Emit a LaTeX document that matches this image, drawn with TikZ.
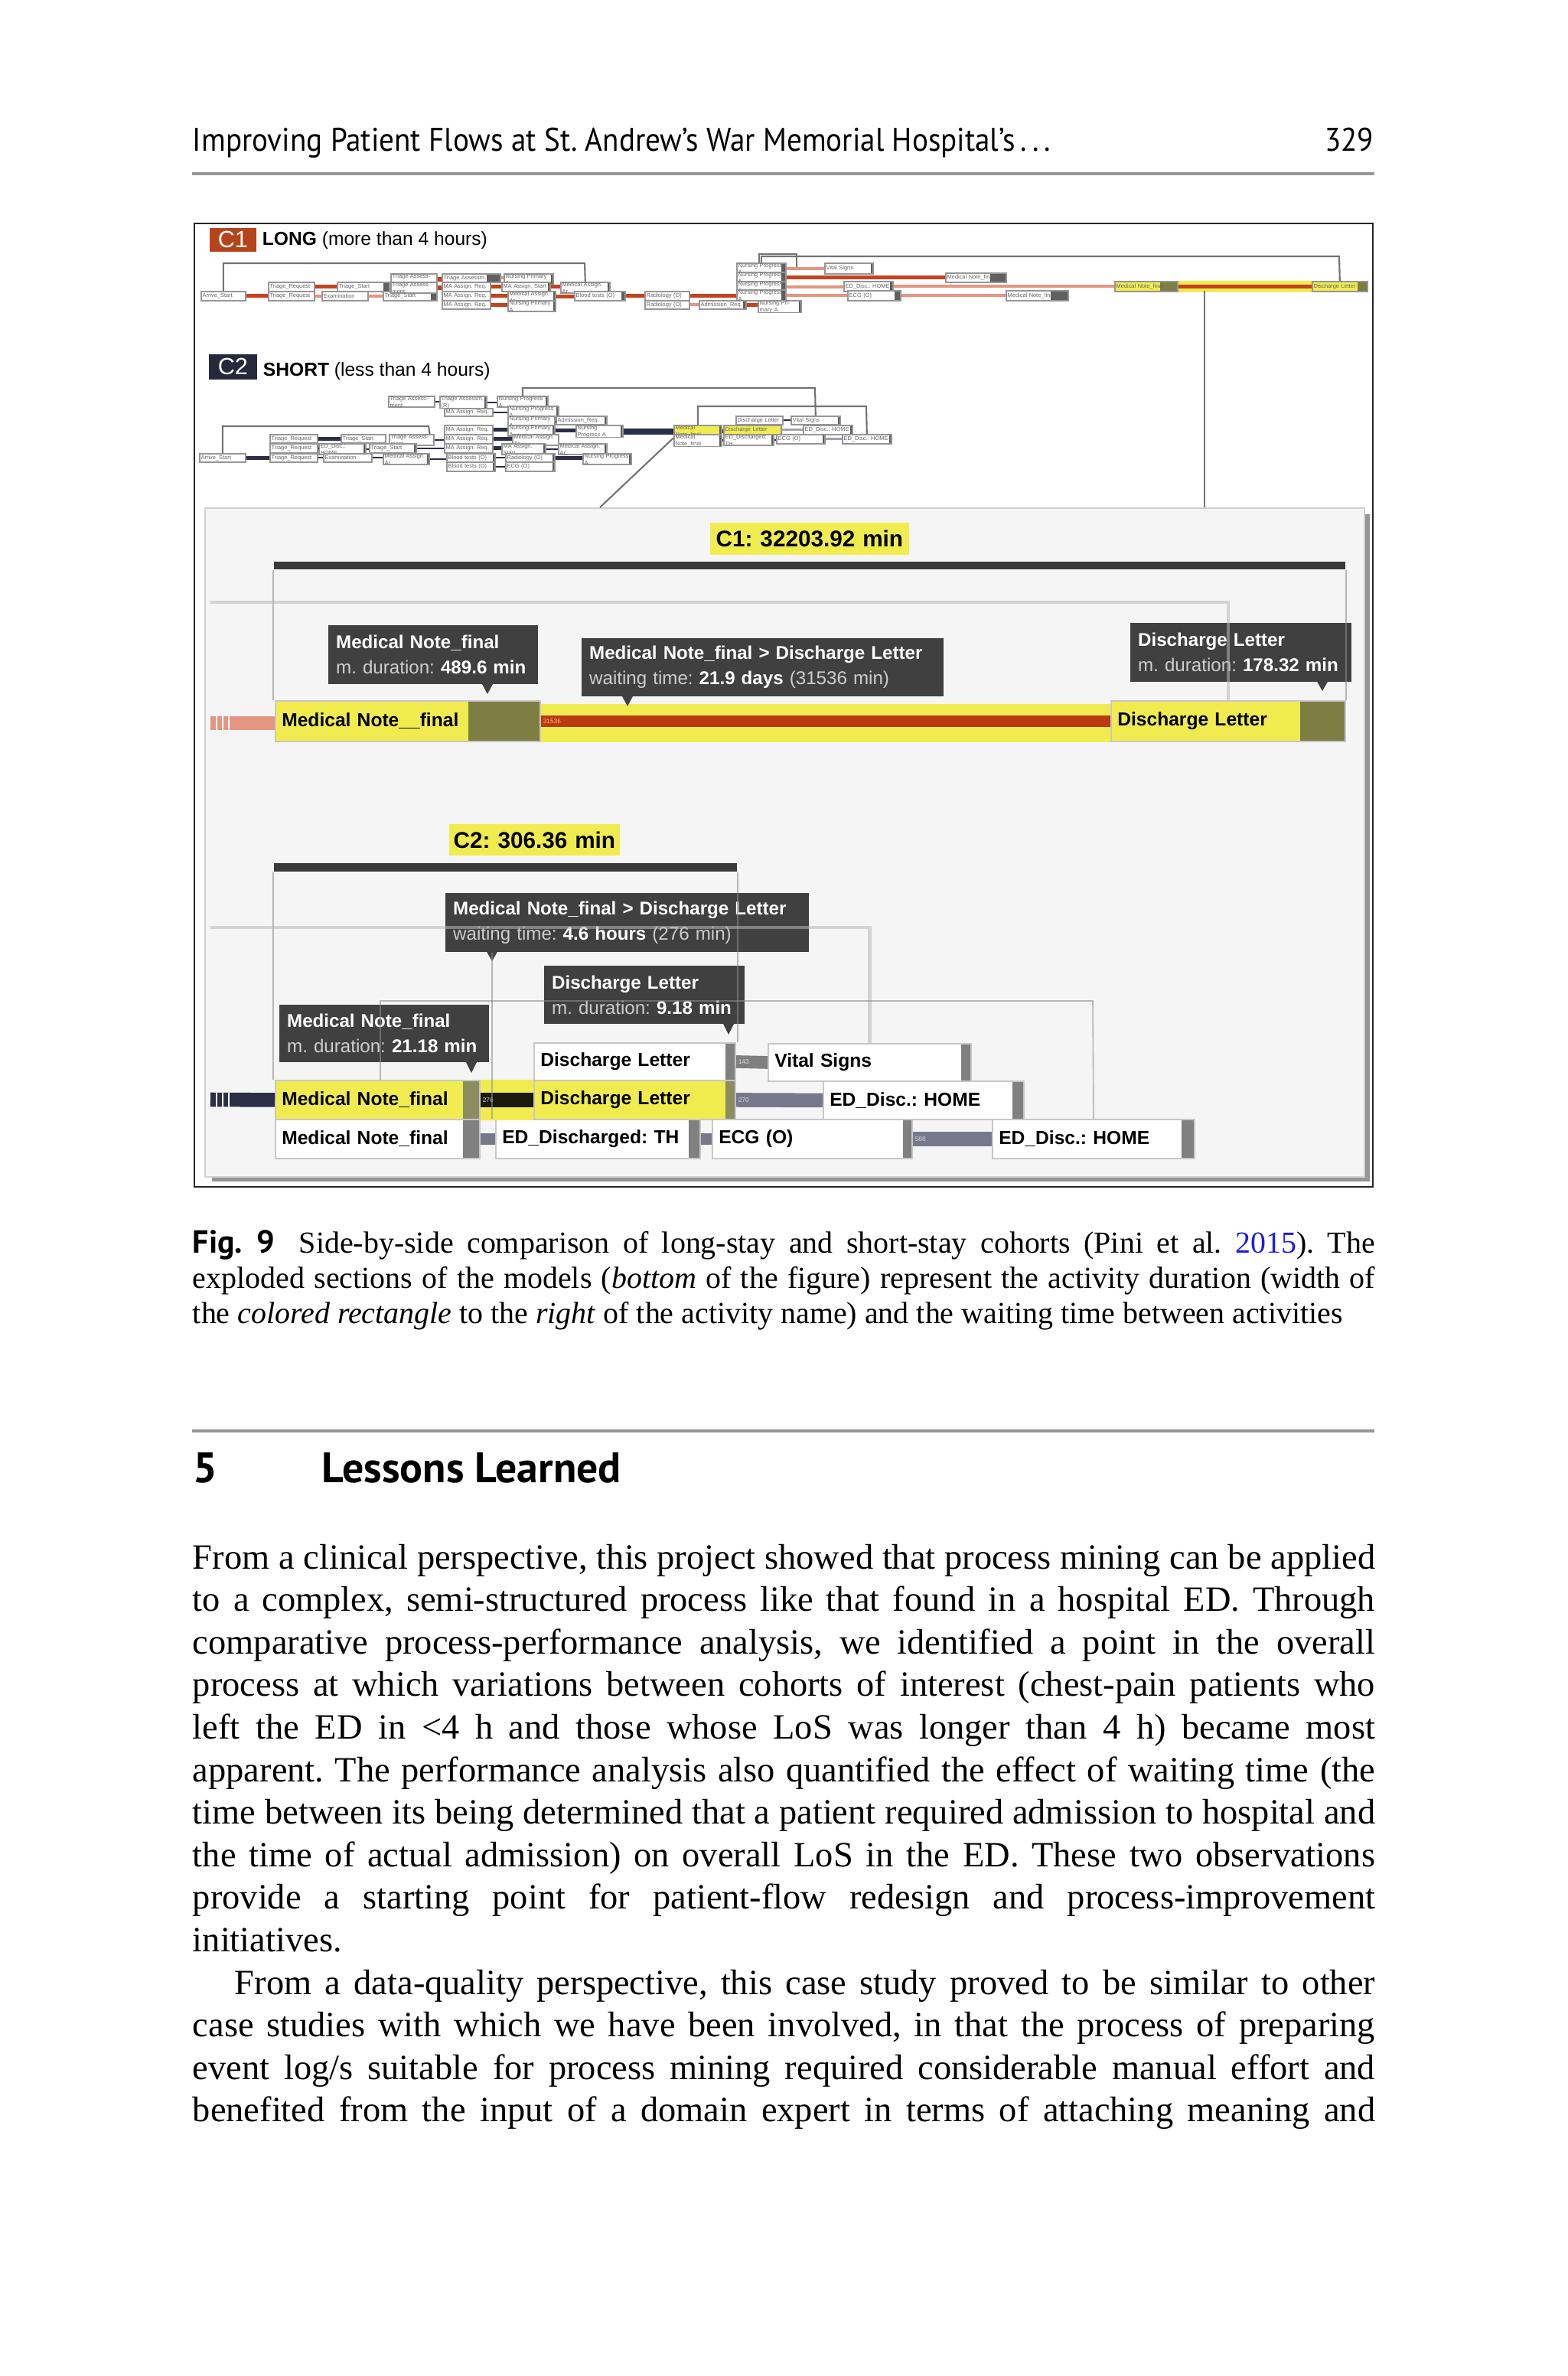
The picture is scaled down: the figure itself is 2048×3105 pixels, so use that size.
\documentclass[tikz,border=0pt]{standalone}
\usepackage{fontspec}
\setmainfont{Liberation Serif}
\newfontfamily\figfont{Liberation Sans}
\newfontfamily\headfont[FakeStretch=0.915]{PT Sans}
\newfontfamily\boldsans{PT Sans}

\newcommand\pxu{0.0757mm}
% box: [style]{name}{x1}{y1}{x2}{y2}{xpad}{text}
\newcommand\bx[8][]{%
  \node[anchor=north west, inner ysep=0pt, #1, inner xsep=#7,
    minimum height={(#6-#4)*\pxu}, text width={(#5-#3)*\pxu-2*(#7)}]
    (#2) at (#3,#4) {#8};}

\definecolor{c1red}{RGB}{181,68,26}
\definecolor{c2navy}{RGB}{38,40,60}
\definecolor{redline}{RGB}{196,66,30}
\definecolor{redpale}{RGB}{228,150,130}
\definecolor{navyline}{RGB}{44,46,72}
\definecolor{ylw}{RGB}{240,236,80}
\definecolor{olive}{RGB}{125,126,66}
\definecolor{olivegray}{RGB}{140,140,96}
\definecolor{barred}{RGB}{184,58,14}
\definecolor{bardark}{RGB}{58,58,58}
\definecolor{tipgray}{RGB}{64,64,64}
\definecolor{tipsub}{RGB}{205,205,205}
\definecolor{panelbg}{RGB}{245,245,246}
\definecolor{shadowgray}{RGB}{150,150,150}
\definecolor{stripgray}{RGB}{128,128,128}
\definecolor{mapstrip}{RGB}{95,95,95}
\definecolor{mapedge}{RGB}{150,150,150}
\definecolor{rulegray}{RGB}{150,150,150}
\definecolor{slate}{RGB}{120,120,140}
\definecolor{linkblue}{RGB}{30,30,220}

\begin{document}
\frenchspacing
\begin{tikzpicture}[x=\pxu, y=-\pxu,
    mapbox/.style={draw=mapedge, line width=0.35pt, fill=white, text=black!60,
      font=\figfont\fontsize{1.6}{1.9}\selectfont},
    strip/.style 2 args={path picture={\fill[#2]
      ([xshift=-#1*\pxu]path picture bounding box.north east)
      rectangle (path picture bounding box.south east);}},
    badge/.style={text=white, align=center, font=\figfont\fontsize{6.6}{7}\selectfont},
    figtitle/.style={inner sep=0pt, font=\figfont\fontsize{5.3}{6}\selectfont},
    actbox/.style={draw=black!22, line width=0.4pt,
      font=\figfont\bfseries\fontsize{5.3}{6}\selectfont},
    tipbox/.style={fill=tipgray, text=white, font=\figfont\fontsize{5.2}{7.1}\selectfont},
    durlab/.style={fill=ylw, align=center, font=\figfont\bfseries\fontsize{6.4}{7}\selectfont},
    barnum/.style={inner sep=0pt, font=\figfont\fontsize{1.8}{2}\selectfont},
    rc/.style={draw=redline, line width=1.1pt},
    rcp/.style={draw=redpale, line width=0.9pt},
    nc/.style={draw=navyline, line width=1.1pt},
    ncl/.style={draw=navyline, line width=0.5pt},
    ngc/.style={draw=slate!70, line width=0.6pt},
    loopl/.style={draw=black!55, line width=0.45pt},
    thinl/.style={draw=black!45, line width=0.35pt, opacity=0.6},
    wline/.style={draw=black!28, line width=0.9pt, opacity=0.55},
    headtext/.style={inner sep=0pt, font=\headfont\fontsize{9.2}{11}\selectfont},
    sechead/.style={inner sep=0pt, anchor=base west, font=\boldsans\bfseries\fontsize{12}{14}\selectfont},
    capline/.style={inner sep=0pt, anchor=base west, font=\fontsize{8.6}{10}\selectfont},
    body/.style={inner sep=0pt, anchor=base west, font=\fontsize{10}{12}\selectfont}
]
\useasboundingbox (0,0) rectangle (2048,3105);
\fill[white] (0,0) rectangle (2048,3105);

% running head
\node[headtext, anchor=base west] (runhead) at (251,197)
  {Improving Patient Flows at St. Andrew’s War Memorial Hospital’s\,.\,.\,.};
\node[headtext, anchor=base east] (pageno) at (1796,197) {329};
\draw[rulegray, line width=0.85pt] (251,227) -- (1796,227);

% figure frame
\draw[black!85, line width=0.5pt] (254,292) rectangle (1794,1551);

% ---- C1 overview map
\bx[badge, fill=c1red]{c1tag}{273}{297}{334}{328}{0pt}{C1}
\node[figtitle, anchor=base west] (c1title) at (342,320) {\textbf{LONG} (more than 4 hours)};

\bx[mapbox]{m1}{262}{380}{320}{392}{0.4pt}{Arrive\_Start}
\bx[mapbox]{m2}{350}{368}{410}{380}{0.4pt}{Triage\_Request}
\bx[mapbox]{m3}{350}{380}{410}{392}{0.4pt}{Triage\_Request}
\bx[mapbox, strip={8}{mapstrip}]{m4}{440}{368}{508}{380}{0.4pt}{Triage\_Start}
\bx[mapbox]{m5}{420}{380}{480}{392}{0.4pt}{Examination}
\bx[mapbox, strip={8}{mapstrip}]{m6}{500}{380}{570}{392}{0.4pt}{Triage\_Start}
\bx[mapbox]{m7}{510}{357}{570}{368}{0.4pt}{Triage Assessment}
\bx[mapbox]{m8}{510}{368}{570}{380}{0.4pt}{Triage Assessment}
\bx[mapbox, strip={18}{mapstrip}]{m9}{577}{357}{653}{368}{0.4pt}{Triage Assessm. (R)}
\bx[mapbox]{m10}{577}{368}{640}{380}{0.4pt}{MA Assign. Req.}
\bx[mapbox]{m11}{577}{380}{640}{392}{0.4pt}{MA Assign. Req.}
\bx[mapbox]{m12}{577}{392}{640}{403}{0.4pt}{MA Assign. Req.}
\bx[mapbox, strip={3}{mapstrip}]{m13}{658}{357}{722}{368}{0.4pt}{Nursing Primary A.}
\bx[mapbox, strip={3}{mapstrip}]{m14}{655}{368}{718}{380}{0.4pt}{MA Assign. Start}
\bx[mapbox, strip={3}{mapstrip}]{m15}{663}{380}{725}{392}{0.4pt}{Medical Assign. Ar.}
\bx[mapbox, strip={3}{mapstrip}]{m16}{663}{392}{725}{403}{0.4pt}{Nursing Primary A.}
\bx[mapbox, strip={3}{mapstrip}]{m17}{732}{368}{796}{380}{0.4pt}{Medical Assign. Ar.}
\bx[mapbox, strip={5}{mapstrip}]{m18}{750}{380}{816}{392}{0.4pt}{Blood tests (O)}
\bx[mapbox]{m19}{842}{380}{900}{392}{0.4pt}{Radiology (O)}
\bx[mapbox]{m20}{842}{392}{900}{403}{0.4pt}{Radiology (O)}
\bx[mapbox, strip={4}{mapstrip}]{m21}{913}{392}{974}{403}{0.4pt}{Admission\_Req.}
\bx[mapbox, strip={3}{mapstrip}]{m22}{990}{392}{1046}{403}{0.4pt}{Nursing Primary A.}
\bx[mapbox, strip={6}{mapstrip}]{m23}{962}{343}{1026}{355}{0.4pt}{Nursing Progress A}
\bx[mapbox, strip={6}{mapstrip}]{m24}{962}{355}{1026}{367}{0.4pt}{Nursing Progress A}
\bx[mapbox, strip={6}{mapstrip}]{m25}{962}{367}{1026}{378}{0.4pt}{Nursing Progress A}
\bx[mapbox, strip={6}{mapstrip}]{m26}{962}{378}{1026}{390}{0.4pt}{Nursing Progress A}
\bx[mapbox, strip={3}{mapstrip}]{m27}{1077}{343}{1140}{357}{0.4pt}{Vital Signs}
\bx[mapbox, strip={21}{mapstrip}]{m28}{1235}{356}{1314}{368}{0.4pt}{Medical Note\_final}
\bx[mapbox, strip={4}{mapstrip}]{m29}{1102}{367}{1166}{380}{0.4pt}{ED\_Disc.: HOME}
\bx[mapbox, strip={8}{mapstrip}]{m30}{1107}{379}{1176}{392}{0.4pt}{ECG (O)}
\bx[mapbox, strip={23}{mapstrip}]{m31}{1314}{379}{1395}{392}{0.4pt}{Medical Note\_final}
\bx[mapbox, fill=ylw, strip={23}{olive}]{m32}{1456}{367}{1538}{380}{0.4pt}{Medical Note\_final}
\bx[mapbox, fill=ylw, strip={13}{olive}]{m33}{1714}{367}{1786}{380}{0.4pt}{Discharge Letter}

\foreach \a/\b in {m1/m3, m2/m4, m8/m10, m10/m14, m11/m15, m12/m16, m14/m17,
    m15/m18, m18/m19, m19/m26, m21/m22, m24/m28, m7/m9}
  \draw[rc] (\a.east) -- (\a.east -| \b.west);
\foreach \a/\b in {m3/m5, m5/m6, m9/m13, m20/m21, m23/m27, m25/m29, m26/m30,
    m29/m32, m30/m31}
  \draw[rcp] (\a.east) -- (\a.east -| \b.west);
\fill[ylw] (m32.north east) rectangle (m33.south west);
\draw[rc] (m32.east) -- (m33.west);

\draw[loopl] (m1.north) |- (764,344) -- (m17.north);
\draw[loopl] (m23.north) |- (1750,335) -- (m33.north);
\draw[loopl] (992,343) |- (1041,332) -- (1041,349);
\coordinate (c1tap) at (1574,380);

% ---- C2 overview map
\bx[badge, fill=c2navy]{c2tag}{272}{462}{335}{495}{0pt}{C2}
\node[figtitle, anchor=base west] (c2title) at (343,491) {\textbf{SHORT} (less than 4 hours)};

\bx[mapbox]{n1}{260}{592}{320}{603}{0.4pt}{Arrive\_Start}
\bx[mapbox]{n2}{352}{567}{414}{578}{0.4pt}{Triage\_Request}
\bx[mapbox]{n3}{352}{579}{414}{591}{0.4pt}{Triage\_Request}
\bx[mapbox]{n4}{352}{592}{414}{603}{0.4pt}{Triage\_Request}
\bx[mapbox]{n5}{445}{567}{503}{578}{0.4pt}{Triage\_Start}
\bx[mapbox]{n6}{508}{567}{566}{578}{0.4pt}{Triage Assessment}
\bx[mapbox, strip={3}{mapstrip}]{n7}{416}{579}{477}{591}{0.4pt}{ED\_Disc.: HOME}
\bx[mapbox, strip={3}{mapstrip}]{n8}{482}{579}{543}{591}{0.4pt}{Triage\_Start}
\bx[mapbox]{n9}{422}{592}{485}{603}{0.4pt}{Examination}
\bx[mapbox, strip={3}{mapstrip}]{n10}{500}{592}{560}{603}{0.4pt}{Medical Assign. Ar.}
\bx[mapbox]{n11}{507}{517}{567}{528}{0.4pt}{Triage Assessment}
\bx[mapbox, strip={3}{mapstrip}]{n12}{574}{517}{635}{528}{0.4pt}{Triage Assessm. (R)}
\bx[mapbox, strip={3}{mapstrip}]{n13}{649}{517}{715}{528}{0.4pt}{Nursing Progress A}
\bx[mapbox]{n14}{580}{533}{643}{543}{0.4pt}{MA Assign. Req.}
\bx[mapbox, strip={3}{mapstrip}]{n15}{663}{530}{729}{542}{0.4pt}{Nursing Progress A}
\bx[mapbox]{n16}{663}{543}{724}{554}{0.4pt}{Nursing Primary A.}
\bx[mapbox, strip={3}{mapstrip}]{n17}{726}{543}{792}{554}{0.4pt}{Admission\_Req.}
\bx[mapbox]{n18}{580}{555}{643}{567}{0.4pt}{MA Assign. Req.}
\bx[mapbox, strip={3}{mapstrip}]{n19}{663}{555}{724}{567}{0.4pt}{Nursing Primary A.}
\bx[mapbox, strip={3}{mapstrip}]{n20}{752}{555}{813}{567}{0.4pt}{Nursing Progress A}
\bx[mapbox]{n21}{580}{567}{643}{579}{0.4pt}{MA Assign. Req.}
\bx[mapbox]{n22}{669}{567}{729}{579}{0.4pt}{Medical Assign. Ar.}
\bx[mapbox]{n23}{580}{579}{643}{591}{0.4pt}{MA Assign. Req.}
\bx[mapbox, strip={3}{mapstrip}]{n24}{655}{579}{712}{591}{0.4pt}{MA Assign. Start}
\bx[mapbox, strip={3}{mapstrip}]{n25}{729}{579}{792}{591}{0.4pt}{Medical Assign. Ar.}
\bx[mapbox, strip={3}{mapstrip}]{n26}{583}{592}{646}{603}{0.4pt}{Blood tests (O)}
\bx[mapbox, strip={3}{mapstrip}]{n27}{583}{603}{646}{615}{0.4pt}{Blood tests (O)}
\bx[mapbox, strip={3}{mapstrip}]{n28}{660}{592}{724}{603}{0.4pt}{Radiology (O)}
\bx[mapbox, strip={3}{mapstrip}]{n29}{660}{603}{724}{615}{0.4pt}{ECG (O)}
\bx[mapbox, strip={3}{mapstrip}]{n30}{761}{592}{824}{603}{0.4pt}{Nursing Progress A}
\bx[mapbox, fill=ylw, strip={3}{mapstrip}]{n31}{880}{555}{942}{567}{0.4pt}{Medical Note\_final}
\bx[mapbox, fill=ylw]{n32}{945}{555}{1020}{567}{0.4pt}{Discharge Letter}
\bx[mapbox, strip={3}{mapstrip}]{n33}{880}{567}{942}{579}{0.4pt}{Medical Note\_final}
\bx[mapbox, strip={3}{mapstrip}]{n34}{945}{567}{1010}{579}{0.4pt}{ED\_Discharged: TH}
\bx[mapbox, strip={3}{mapstrip}]{n35}{1014}{567}{1077}{579}{0.4pt}{ECG (O)}
\bx[mapbox, strip={3}{mapstrip}]{n36}{1100}{567}{1164}{579}{0.4pt}{ED\_Disc.: HOME}
\bx[mapbox]{n37}{961}{543}{1022}{554}{0.4pt}{Discharge Letter}
\bx[mapbox, strip={3}{mapstrip}]{n38}{1033}{543}{1097}{554}{0.4pt}{Vital Signs}
\bx[mapbox, strip={3}{mapstrip}]{n39}{1049}{555}{1113}{567}{0.4pt}{ED\_Disc.: HOME}

\foreach \a/\b in {n1/n4, n2/n5, n18/n19, n19/n20, n21/n22, n23/n24, n28/n30, n31/n32}
  \draw[nc] (\a.east) -- (\a.east -| \b.west);
\draw[nc, line width=1.7pt] (n20.east) -- (n20.east -| n31.west);
\foreach \a/\b in {n3/n7, n4/n9, n7/n8, n9/n10, n6/n21, n11/n12, n12/n13, n14/n15,
    n16/n17, n24/n25, n26/n28, n27/n29, n37/n38, n33/n34, n34/n35, n8/n23, n10/n26}
  \draw[ncl] (\a.east) -- (\a.east -| \b.west);
\foreach \a/\b in {n32/n39, n35/n36}
  \draw[ngc] (\a.east) -- (\a.east -| \b.west);

\draw[loopl] (n1.north) |- (560,557) -- ([xshift=-6*\pxu]n6.north east);
\draw[loopl] (n13.north) |- (1065,507) -- (n38.north);
\draw[loopl] (n31.north) |- (1132,531) -- (n36.north);

% ---- exploded panel
\fill[shadowgray] (277,672) rectangle (1790,1544);
\bx[fill=panelbg, draw=black!18, line width=0.4pt]{zoompanel}{267}{663}{1782}{1537}{0pt}{}
\draw[loopl] (c1tap) -- (c1tap |- zoompanel.north);
\coordinate (c2tap) at (784,663);
\draw[loopl] (n31.south west) -- (c2tap);

% C1 exploded
\bx[durlab]{c1sum}{927}{682}{1187}{724}{0pt}{C1: 32203.92 min}
\bx[fill=bardark]{c1bar}{357}{733}{1757}{743}{0pt}{}
\fill[redpale] (275,936) rectangle (359,954);
\foreach \sx in {283,291,299} \draw[white, line width=0.5pt] (\sx,936) -- (\sx,954);
\bx[actbox, fill=ylw, strip={94}{olive}]{c1mn}{359}{915}{705}{968}{1.8pt}{Medical Note\_\_final}
\bx[actbox, fill=ylw, strip={59}{olive}]{c1dl}{1451}{915}{1757}{968}{1.8pt}{Discharge Letter}
\fill[ylw] ([yshift=-5*\pxu]c1mn.north east) rectangle (c1dl.south west);
\draw[barred, line width=3.4pt] (c1mn.east) -- (c1dl.west);
\node[barnum, text=orange!55, anchor=west] (c1wait) at ([xshift=2*\pxu]c1mn.east) {31536};

\bx[tipbox]{c1tipmn}{428}{816}{702}{893}{2.2pt}
  {\mbox{\textbf{Medical Note\_final}}\\\mbox{{\color{tipsub}m. duration:} \textbf{489.6 min}}}
\fill[tipgray] (629,892) -- (645,892) -- (637,907) -- cycle;
\bx[tipbox]{c1tipw}{759}{833}{1232}{909}{2.2pt}
  {\mbox{\textbf{Medical Note\_final > Discharge Letter}}\\\mbox{{\color{tipsub}waiting time:} \textbf{21.9 days} {\color{tipsub}(31536 min)}}}
\fill[tipgray] (812,908) -- (828,908) -- (820,923) -- cycle;
\bx[tipbox]{c1tipdl}{1476}{813}{1765}{890}{2.2pt}
  {\mbox{\textbf{Discharge Letter}}\\\mbox{{\color{tipsub}m. duration:} \textbf{178.32 min}}}
\fill[tipgray] (1720,889) -- (1736,889) -- (1728,903) -- cycle;

\draw[thinl] (c1bar.south west) -- (c1bar.south west |- c1mn.north);
\draw[thinl] (c1bar.south east) -- (c1bar.south east |- c1dl.north);
\coordinate (c1in) at (275,787);
\draw[wline] (c1in) -| (c1dl.north);

% C2 exploded
\bx[durlab]{c2sum}{586}{1076}{809}{1117}{0pt}{C2: 306.36 min}
\bx[fill=bardark]{c2bar}{357}{1127}{962}{1138}{0pt}{}
\bx[actbox, fill=white, strip={13}{stripgray}]{d1}{697}{1362}{960}{1411}{1.8pt}{Discharge Letter}
\bx[actbox, fill=white, strip={13}{stripgray}]{d2}{1003}{1363}{1268}{1412}{1.8pt}{Vital Signs}
\bx[actbox, fill=ylw, strip={22}{olivegray}]{d3}{359}{1411}{626}{1462}{1.8pt}{Medical Note\_final}
\bx[actbox, fill=ylw, strip={13}{olivegray}]{d4}{697}{1411}{960}{1462}{1.8pt}{Discharge Letter}
\bx[actbox, fill=white, strip={15}{stripgray}]{d5}{1075}{1412}{1337}{1462}{1.8pt}{ED\_Disc.: HOME}
\bx[actbox, fill=white, strip={22}{stripgray}]{d6}{359}{1462}{626}{1513}{1.8pt}{Medical Note\_final}
\bx[actbox, fill=white, strip={15}{stripgray}]{d7}{647}{1462}{914}{1513}{1.8pt}{ED\_Discharged: TH}
\bx[actbox, fill=white, strip={12}{stripgray}]{d8}{930}{1462}{1191}{1513}{1.8pt}{ECG (O)}
\bx[actbox, fill=white, strip={17}{stripgray}]{d9}{1296}{1462}{1560}{1513}{1.8pt}{ED\_Disc.: HOME}

\fill[ylw] (d3.north east) rectangle (d4.south west);
\coordinate (c2stub) at (275,1437);
\draw[navyline, line width=4pt] (c2stub) -- (d3.west);
\foreach \sx in {283,291,299} \draw[white, line width=0.5pt] (\sx,1428) -- (\sx,1447);
\draw[black!80!olive, line width=4.2pt] (d3.east) -- (d4.west);
\draw[slate, line width=4pt] (d4.east) -- (d5.west);
\draw[stripgray, line width=3.6pt] (d1.east) -- (d2.west);
\draw[slate, line width=3.2pt] (d6.east) -- (d7.west);
\draw[slate, line width=3.2pt] (d7.east) -- (d8.west);
\draw[slate, line width=4pt] (d8.east) -- (d9.west);
\node[barnum, text=white!70!gray, anchor=west] (w276) at ([xshift=2*\pxu]d3.east) {276};
\node[barnum, text=white!70!gray, anchor=west] (w270) at ([xshift=2*\pxu]d4.east) {270};
\node[barnum, text=white!70!gray, anchor=west] (w143) at ([xshift=2*\pxu]d1.east) {143};
\node[barnum, text=white!70!gray, anchor=west] (w588) at ([xshift=2*\pxu]d8.east) {588};

\bx[tipbox]{c2tipw}{581}{1166}{1056}{1243}{2.2pt}
  {\mbox{\textbf{Medical Note\_final > Discharge Letter}}\\\mbox{{\color{tipsub}waiting time:} \textbf{4.6 hours} {\color{tipsub}(276 min)}}}
\fill[tipgray] (635,1242) -- (651,1242) -- (643,1256) -- cycle;
\bx[tipbox]{c2tipdl}{710}{1261}{972}{1337}{2.2pt}
  {\mbox{\textbf{Discharge Letter}}\\\mbox{{\color{tipsub}m. duration:} \textbf{9.18 min}}}
\fill[tipgray] (944,1336) -- (960,1336) -- (952,1352) -- cycle;
\bx[tipbox]{c2tipmn}{364}{1312}{638}{1387}{2.2pt}
  {\mbox{\textbf{Medical Note\_final}}\\\mbox{{\color{tipsub}m. duration:} \textbf{21.18 min}}}
\fill[tipgray] (608,1386) -- (624,1386) -- (616,1402) -- cycle;

\draw[thinl] (c2bar.south west) -- (c2bar.south west |- d3.north);
\draw[thinl] (c2bar.south east) -- (c2bar.south east |- d1.north);
\coordinate (c2in) at (275,1212);
\draw[wline] (c2in) -| (d2.north);
\draw[thinl] ([xshift=138*\pxu]d3.north west) |- (1428,1308) -- (d9.north);
\draw[thinl] ([xshift=62*\pxu]c2tipw.south west) |- ([xshift=-4*\pxu]d7.north west);

% caption
\node[capline] (cap1) at (251,1637) {\makebox[116.96mm][s]{{\boldsans\bfseries\fontsize{9}{10}\selectfont Fig.\ 9}\hspace{6.8pt}Side-by-side comparison of long-stay and short-stay cohorts (Pini et al. {\color{linkblue}2015}). The}};
\node[capline] (cap2) at (251,1683) {\makebox[116.96mm][s]{exploded sections of the models (\emph{bottom} of the figure) represent the activity duration (width of}};
\node[capline] (cap3) at (251,1729) {the \emph{colored rectangle} to the \emph{right} of the activity name) and the waiting time between activities};

% section heading
\draw[rulegray, line width=0.85pt] (251,1870) -- (1796,1870);
\node[sechead] (secnum) at (252,1937) {5};
\node[sechead] (sectitle) at (420,1937) {Lessons Learned};

% body text
\node[body] (b1) at (251,2050) {\makebox[116.96mm][s]{From a clinical perspective, this project showed that process mining can be applied}};
\node[body] (b2) at (251,2105.6) {\makebox[116.96mm][s]{to a complex, semi-structured process like that found in a hospital ED. Through}};
\node[body] (b3) at (251,2161.2) {\makebox[116.96mm][s]{comparative process-performance analysis, we identified a point in the overall}};
\node[body] (b4) at (251,2216.8) {\makebox[116.96mm][s]{process at which variations between cohorts of interest (chest-pain patients who}};
\node[body] (b5) at (251,2272.4) {\makebox[116.96mm][s]{left the ED in <4 h and those whose LoS was longer than 4 h) became most}};
\node[body] (b6) at (251,2328) {\makebox[116.96mm][s]{apparent. The performance analysis also quantified the effect of waiting time (the}};
\node[body] (b7) at (251,2383.6) {\makebox[116.96mm][s]{time between its being determined that a patient required admission to hospital and}};
\node[body] (b8) at (251,2439.2) {\makebox[116.96mm][s]{the time of actual admission) on overall LoS in the ED. These two observations}};
\node[body] (b9) at (251,2494.8) {\makebox[116.96mm][s]{provide a starting point for patient-flow redesign and process-improvement}};
\node[body] (b10) at (251,2550.4) {initiatives.};
\node[body] (b11) at (306,2606) {\makebox[112.8mm][s]{From a data-quality perspective, this case study proved to be similar to other}};
\node[body] (b12) at (251,2661.6) {\makebox[116.96mm][s]{case studies with which we have been involved, in that the process of preparing}};
\node[body] (b13) at (251,2717.2) {\makebox[116.96mm][s]{event log/s suitable for process mining required considerable manual effort and}};
\node[body] (b14) at (251,2772.8) {\makebox[116.96mm][s]{benefited from the input of a domain expert in terms of attaching meaning and}};
\end{tikzpicture}
\end{document}
